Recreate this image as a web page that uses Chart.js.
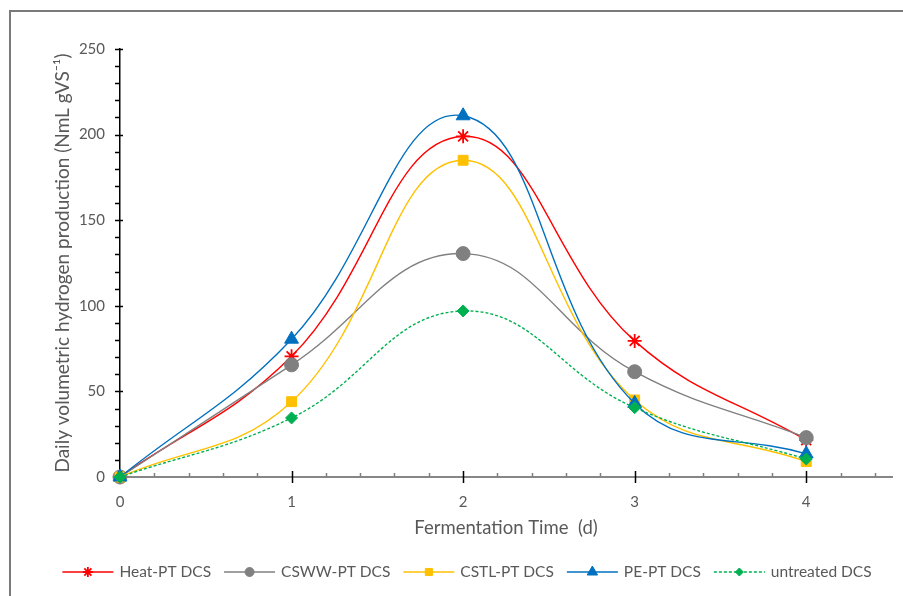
<!DOCTYPE html>
<html lang="en">

<head>
    <meta charset="UTF-8" />
    <title>Daily volumetric hydrogen production</title>
    <script src="https://cdn.jsdelivr.net/npm/chart.js"></script>
    <style>
        body { margin: 0; overflow: hidden; background: #fff; }
        #frame {
            position: absolute; left: 9px; top: 10px; width: 1000px; height: 1000px;
            border-top: 2px solid #7a7a7a; border-left: 2px solid #7a7a7a;
        }
        #wrap { position: absolute; left: 0; top: 0; width: 903px; height: 596px; }
    </style>
</head>

<body>
    <div id="frame"></div>
    <div id="wrap"><canvas id="h2Chart" width="903" height="596"></canvas></div>

    <script>
        // fermentation days
        const days = [0, 1, 2, 3, 4];

        // daily hydrogen (NmL gVS-1)
        const heatPT = [0, 70.5, 199, 79.5, 21.5];
        const cswwPT = [0, 65.5, 130.5, 61.5, 23];
        const cstlPT = [0, 44, 185, 45, 9];
        const pePT = [0, 80.5, 211, 43, 13.5];
        const untreated = [0, 34.5, 97, 40.5, 10.5];

        const seriesNames = ['Heat-PT DCS', 'CSWW-PT DCS', 'CSTL-PT DCS', 'PE-PT DCS', 'untreated DCS'];
        const yTicks = [0, 50, 100, 150, 200, 250];
        const xTicks = [0, 1, 2, 3, 4];

        const textColor = '#595959';
        const fontName = 'Lato, "Open Sans", sans-serif';

        function toPoints(vals) {
            return days.map((d, i) => ({ x: d, y: vals[i] }));
        }

        function makeSet(label, vals, color, style, radius, legendRadius, order, dash) {
            return {
                label: label,
                data: toPoints(vals),
                borderColor: color,
                backgroundColor: color,
                borderWidth: 1.4,
                borderDash: dash || [],
                pointStyle: style,
                pointRadius: radius,
                legendRadius: legendRadius,
                pointBorderWidth: style === 'star' ? 1.8 : 1,
                pointBorderColor: color,
                pointBackgroundColor: color,
                tension: 0.42,
                order: order,
                clip: false,
                fill: false
            };
        }

        // minor / major tick marks drawn off the chart's own scales
        const axisTicks = {
            id: 'axisTicks',
            beforeDatasetsDraw(chart) {
                const ctx = chart.ctx;
                const xs = chart.scales.x;
                const ys = chart.scales.y;
                const left = chart.chartArea.left;
                const bottom = chart.chartArea.bottom;
                ctx.save();
                ctx.lineWidth = 1.5;
                ctx.strokeStyle = '#000';
                for (let v = 0; v <= 250; v += 10) {
                    const y = Math.round(ys.getPixelForValue(v)) + 0.5;
                    ctx.beginPath();
                    if (v % 50 === 0) {
                        ctx.moveTo(left - 5, y);
                        ctx.lineTo(left + 3, y);
                    } else {
                        ctx.moveTo(left - 5, y);
                        ctx.lineTo(left, y);
                    }
                    ctx.stroke();
                }
                for (let k = 1; k <= 22; k++) {
                    const v = k * 0.2;
                    const x = Math.round(xs.getPixelForValue(v)) + 0.5;
                    ctx.beginPath();
                    if (k % 5 === 0) {
                        ctx.strokeStyle = '#000';
                        ctx.moveTo(x, bottom - 6);
                        ctx.lineTo(x, bottom + 6);
                    } else {
                        ctx.strokeStyle = '#7f7f7f';
                        ctx.moveTo(x, bottom - 4);
                        ctx.lineTo(x, bottom);
                    }
                    ctx.stroke();
                }
                ctx.restore();
            }
        };

        // legend as in the original: a short line with the marker on it
        const lineLegend = {
            id: 'lineLegend',
            afterDraw(chart) {
                const ctx = chart.ctx;
                const sets = chart.data.datasets;
                const lineW = 51, gapText = 6, gapItem = 13;
                const cy = 572;
                ctx.save();
                ctx.font = '15.5px ' + fontName;
                const widths = sets.map(ds => ctx.measureText(ds.label).width);
                let total = 0;
                widths.forEach((w, i) => { total += lineW + gapText + w + (i < widths.length - 1 ? gapItem : 0); });
                let x = 467 - total / 2;
                sets.forEach((ds, i) => {
                    ctx.strokeStyle = ds.borderColor;
                    ctx.fillStyle = ds.backgroundColor;
                    ctx.lineWidth = 1.4;
                    ctx.setLineDash(ds.borderDash);
                    ctx.beginPath();
                    ctx.moveTo(x, cy);
                    ctx.lineTo(x + lineW, cy);
                    ctx.stroke();
                    ctx.setLineDash([]);
                    ctx.lineWidth = ds.pointBorderWidth;
                    Chart.helpers.drawPoint(ctx, {
                        pointStyle: ds.pointStyle,
                        radius: ds.legendRadius,
                        rotation: 0,
                        borderWidth: ds.pointBorderWidth
                    }, x + lineW / 2, cy);
                    ctx.fillStyle = textColor;
                    ctx.textBaseline = 'middle';
                    ctx.textAlign = 'left';
                    ctx.fillText(ds.label, x + lineW + gapText, cy);
                    x += lineW + gapText + widths[i] + gapItem;
                });
                ctx.restore();
            }
        };

        const ctx = document.getElementById('h2Chart').getContext('2d');

        const chart = new Chart(ctx, {
            type: 'line',
            data: {
                datasets: [
                    makeSet(seriesNames[0], heatPT, '#ff0000', 'star', 7, 5, 4),
                    makeSet(seriesNames[1], cswwPT, '#808080', 'circle', 7, 4.5, 3),
                    makeSet(seriesNames[2], cstlPT, '#ffc000', 'rect', 7, 5, 2),
                    makeSet(seriesNames[3], pePT, '#0070c0', 'triangle', 8, 6, 1),
                    makeSet(seriesNames[4], untreated, '#00b050', 'rectRot', 6, 4, 0, [3, 2])
                ]
            },
            options: {
                responsive: false,
                animation: false,
                layout: { padding: { left: 0, top: 49, right: 11, bottom: 54 } },
                plugins: {
                    legend: { display: false },
                    tooltip: { enabled: false }
                },
                scales: {
                    x: {
                        type: 'linear',
                        min: 0,
                        max: 4.5,
                        afterFit(scale) { scale.height = 65; },
                        afterBuildTicks(scale) { scale.ticks = xTicks.map(v => ({ value: v })); },
                        ticks: {
                            padding: 16,
                            color: textColor,
                            font: { family: fontName, size: 15 },
                            maxRotation: 0
                        },
                        grid: { display: true, drawOnChartArea: false, drawTicks: false },
                        border: { display: true, color: '#868686', width: 2 },
                        title: {
                            display: true,
                            text: 'Fermentation Time  (d)',
                            color: textColor,
                            font: { family: fontName, size: 18.5 },
                            padding: { top: 0, bottom: 3 }
                        }
                    },
                    y: {
                        min: 0,
                        max: 250,
                        afterFit(scale) { scale.width = 120; },
                        afterBuildTicks(scale) { scale.ticks = yTicks.map(v => ({ value: v })); },
                        ticks: {
                            padding: 15,
                            color: textColor,
                            font: { family: fontName, size: 15 }
                        },
                        grid: { display: true, drawOnChartArea: false, drawTicks: false },
                        border: { display: true, color: '#000', width: 1.5 },
                        title: {
                            display: true,
                            text: 'Daily volumetric hydrogen production (NmL gVS\u207B\u00B9)',
                            color: textColor,
                            font: { family: fontName, size: 19 },
                            padding: { top: 51, bottom: 0 }
                        }
                    }
                }
            },
            plugins: [axisTicks, lineLegend]
        });
    </script>
</body>

</html>
